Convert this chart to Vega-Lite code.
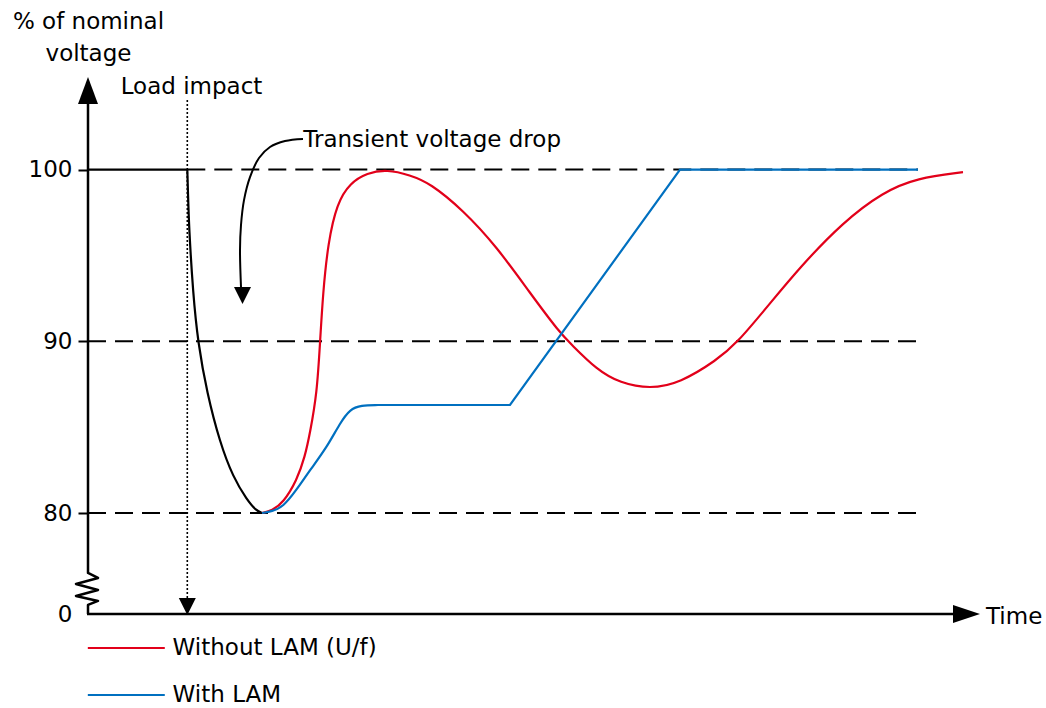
{
  "$schema": "https://vega.github.io/schema/vega-lite/v6.json",
  "width": 892,
  "height": 536,
  "autosize": {"type": "none"},
  "padding": {"left": 88, "top": 78, "right": 66, "bottom": 94},
  "background": "white",
  "config": {"view": {"stroke": null}, "font": "DejaVu Sans"},
  "datasets": {
    "guides": [
      {"t": 9.93, "t2": 83, "v": 100},
      {"t": 0, "t2": 83, "v": 90},
      {"t": 0, "t2": 83, "v": 80}
    ],
    "load": [{"t": 9.93, "v": 104.05, "v2": 74.9}],
    "blackFlat": [{"t": 0, "v": 100}, {"t": 9.93, "v": 100}],
    "black": [
      {"t": 9.93, "v": 100}, {"t": 10.0, "v": 98.6}, {"t": 10.1, "v": 96.65}, {"t": 10.5, "v": 92.81},
      {"t": 11.0, "v": 89.9}, {"t": 11.9, "v": 86.99}, {"t": 13.2, "v": 84.08},
      {"t": 14.5, "v": 82.1}, {"t": 15.9, "v": 80.76}, {"t": 16.8, "v": 80.15}, {"t": 17.4, "v": 80.0}
    ],
    "curves": [
      {"series": "Without LAM (U/f)", "t": 17.4, "v": 80.0},
      {"series": "Without LAM (U/f)", "t": 18.4, "v": 80.15},
      {"series": "Without LAM (U/f)", "t": 19.5, "v": 80.58},
      {"series": "Without LAM (U/f)", "t": 20.9, "v": 81.92},
      {"series": "Without LAM (U/f)", "t": 21.7, "v": 83.3},
      {"series": "Without LAM (U/f)", "t": 22.2, "v": 84.66},
      {"series": "Without LAM (U/f)", "t": 22.9, "v": 86.99},
      {"series": "Without LAM (U/f)", "t": 23.2, "v": 89.9},
      {"series": "Without LAM (U/f)", "t": 23.5, "v": 92.81},
      {"series": "Without LAM (U/f)", "t": 24.0, "v": 95.72},
      {"series": "Without LAM (U/f)", "t": 24.9, "v": 98.05},
      {"series": "Without LAM (U/f)", "t": 26.2, "v": 99.21},
      {"series": "Without LAM (U/f)", "t": 27.9, "v": 99.8},
      {"series": "Without LAM (U/f)", "t": 29.9, "v": 100.0},
      {"series": "Without LAM (U/f)", "t": 32.2, "v": 99.68},
      {"series": "Without LAM (U/f)", "t": 34.2, "v": 99.21},
      {"series": "Without LAM (U/f)", "t": 37.5, "v": 97.64},
      {"series": "Without LAM (U/f)", "t": 40.9, "v": 95.49},
      {"series": "Without LAM (U/f)", "t": 44.2, "v": 92.81},
      {"series": "Without LAM (U/f)", "t": 47.2, "v": 90.48},
      {"series": "Without LAM (U/f)", "t": 48.2, "v": 89.9},
      {"series": "Without LAM (U/f)", "t": 50.9, "v": 88.33},
      {"series": "Without LAM (U/f)", "t": 53.2, "v": 87.57},
      {"series": "Without LAM (U/f)", "t": 56.2, "v": 87.22},
      {"series": "Without LAM (U/f)", "t": 59.2, "v": 87.57},
      {"series": "Without LAM (U/f)", "t": 62.9, "v": 88.91},
      {"series": "Without LAM (U/f)", "t": 64.9, "v": 89.9},
      {"series": "Without LAM (U/f)", "t": 67.9, "v": 91.99},
      {"series": "Without LAM (U/f)", "t": 71.2, "v": 94.32},
      {"series": "Without LAM (U/f)", "t": 75.5, "v": 96.94},
      {"series": "Without LAM (U/f)", "t": 79.5, "v": 98.69},
      {"series": "Without LAM (U/f)", "t": 82.9, "v": 99.51},
      {"series": "Without LAM (U/f)", "t": 87.5, "v": 99.85},
      {"series": "With LAM", "t": 17.4, "v": 80.0},
      {"series": "With LAM", "t": 18.4, "v": 80.1},
      {"series": "With LAM", "t": 19.5, "v": 80.35},
      {"series": "With LAM", "t": 20.8, "v": 81.3},
      {"series": "With LAM", "t": 22.2, "v": 82.5},
      {"series": "With LAM", "t": 23.9, "v": 83.84},
      {"series": "With LAM", "t": 25.2, "v": 85.24},
      {"series": "With LAM", "t": 26.2, "v": 86.05},
      {"series": "With LAM", "t": 27.3, "v": 86.27},
      {"series": "With LAM", "t": 29.0, "v": 86.29}
    ],
    "blueLinear": [
      {"series": "With LAM", "t": 29.0, "v": 86.29},
      {"series": "With LAM", "t": 42.2, "v": 86.29},
      {"series": "With LAM", "t": 59.2, "v": 100.0},
      {"series": "With LAM", "t": 83.0, "v": 100.0}
    ],
    "axes": [
      {"part": "y", "o": 1, "t": 0, "v": 104.0},
      {"part": "y", "o": 2, "t": 0, "v": 76.51},
      {"part": "y", "o": 3, "t": 1.0, "v": 76.22},
      {"part": "y", "o": 4, "t": -1.2, "v": 75.87},
      {"part": "y", "o": 5, "t": 1.0, "v": 75.52},
      {"part": "y", "o": 6, "t": -1.2, "v": 75.17},
      {"part": "y", "o": 7, "t": 1.0, "v": 74.88},
      {"part": "y", "o": 8, "t": 0, "v": 74.65},
      {"part": "y", "o": 9, "t": 0, "v": 74.12},
      {"part": "x", "o": 1, "t": -0.1, "v": 74.12},
      {"part": "x", "o": 2, "t": 87.0, "v": 74.12}
    ],
    "pointer": [
      {"o": 1, "t": 21.5, "v": 101.78},
      {"o": 2, "t": 19.7, "v": 101.66},
      {"o": 3, "t": 18.2, "v": 101.31},
      {"o": 4, "t": 17.1, "v": 100.67},
      {"o": 5, "t": 16.2, "v": 99.56},
      {"o": 6, "t": 15.6, "v": 98.22},
      {"o": 7, "t": 15.3, "v": 96.77},
      {"o": 8, "t": 15.2, "v": 95.31},
      {"o": 9, "t": 15.3, "v": 93.16}
    ],
    "upArrow": [{"t": 0, "v": 104.6}],
    "rightArrow": [{"t": 87.85, "v": 74.12}],
    "downArrows": [{"t": 9.93, "v": 74.56}, {"t": 15.45, "v": 92.66}],
    "labels": [
      {"label": "Load impact", "t": 3.27, "v": 104.4},
      {"label": "Transient voltage drop", "t": 21.53, "v": 101.29},
      {"label": "Time", "t": 89.8, "v": 73.54}
    ]
  },
  "encoding": {
    "x": {"field": "t", "type": "quantitative", "scale": {"domain": [0, 89.2], "nice": false, "zero": false}, "axis": null},
    "y": {
      "field": "v", "type": "quantitative",
      "scale": {"domain": [74.12, 105.33], "nice": false, "zero": false},
      "axis": {
        "values": [74.12, 80, 90, 100],
        "labelExpr": "datum.value < 75 ? '0' : datum.label",
        "domain": false, "grid": false,
        "ticks": true, "tickSize": 10, "tickWidth": 2,
        "tickColor": {"condition": {"test": "datum.value < 75", "value": "transparent"}, "value": "black"},
        "labelFont": "DejaVu Sans", "labelFontSize": 23, "labelColor": "black", "labelPadding": 6,
        "labelOverlap": false, "labelFlush": false,
        "title": ["% of nominal", "voltage"], "titleAngle": 0, "titleAlign": "center", "titleBaseline": "alphabetic",
        "titleX": 0, "titleY": -50, "titleFont": "DejaVu Sans", "titleFontSize": 23, "titleFontWeight": "normal",
        "titleColor": "black", "titleLineHeight": 32
      }
    }
  },
  "layer": [
    {
      "data": {"name": "guides"},
      "mark": {"type": "rule", "color": "black", "strokeWidth": 2, "strokeDash": [18, 9]},
      "encoding": {"x2": {"field": "t2"}}
    },
    {
      "data": {"name": "load"},
      "mark": {"type": "rule", "color": "black", "strokeWidth": 1.6, "strokeDash": [2, 2]},
      "encoding": {"y2": {"field": "v2"}}
    },
    {
      "data": {"name": "blackFlat"},
      "mark": {"type": "line", "color": "black", "strokeWidth": 2.2},
      "encoding": {}
    },
    {
      "data": {"name": "black"},
      "mark": {"type": "line", "color": "black", "strokeWidth": 2.2, "interpolate": "basis"},
      "encoding": {}
    },
    {
      "data": {"name": "curves"},
      "mark": {"type": "line", "strokeWidth": 2.2, "interpolate": "basis"},
      "encoding": {
        "color": {
          "field": "series", "type": "nominal",
          "scale": {"domain": ["Without LAM (U/f)", "With LAM"], "range": ["#e2001a", "#0070c0"]},
          "legend": {
            "orient": "none", "legendX": 26.8, "legendY": 558.5, "title": null,
            "symbolType": "M-5,0L5,0", "symbolSize": 237, "symbolStrokeWidth": 2,
            "labelFont": "DejaVu Sans", "labelFontSize": 23, "labelColor": "black",
            "labelOffset": 34.8, "rowPadding": 23, "padding": 0, "labelLimit": 0
          }
        }
      }
    },
    {
      "data": {"name": "blueLinear"},
      "mark": {"type": "line", "strokeWidth": 2.2},
      "encoding": {
        "color": {"field": "series", "type": "nominal"}
      }
    },
    {
      "data": {"name": "axes"},
      "mark": {"type": "line", "color": "black", "strokeWidth": 2.5, "strokeJoin": "round"},
      "encoding": {"order": {"field": "o"}, "detail": {"field": "part"}}
    },
    {
      "data": {"name": "pointer"},
      "mark": {"type": "line", "color": "black", "strokeWidth": 2, "interpolate": "catmull-rom"},
      "encoding": {"order": {"field": "o"}}
    },
    {
      "data": {"name": "upArrow"},
      "mark": {"type": "point", "shape": "M0,-1L0.74,1L-0.74,1Z", "size": 729, "filled": true, "color": "black", "opacity": 1, "strokeWidth": 0}
    },
    {
      "data": {"name": "rightArrow"},
      "mark": {"type": "point", "shape": "M1,0L-1,-0.67L-1,0.67Z", "size": 729, "filled": true, "color": "black", "opacity": 1, "strokeWidth": 0}
    },
    {
      "data": {"name": "downArrows"},
      "mark": {"type": "point", "shape": "M-1,-1L1,-1L0,1Z", "size": 289, "filled": true, "color": "black", "opacity": 1, "strokeWidth": 0}
    },
    {
      "data": {"name": "labels"},
      "mark": {"type": "text", "align": "left", "baseline": "alphabetic", "font": "DejaVu Sans", "fontSize": 23, "color": "black"},
      "encoding": {"text": {"field": "label"}}
    }
  ]
}
